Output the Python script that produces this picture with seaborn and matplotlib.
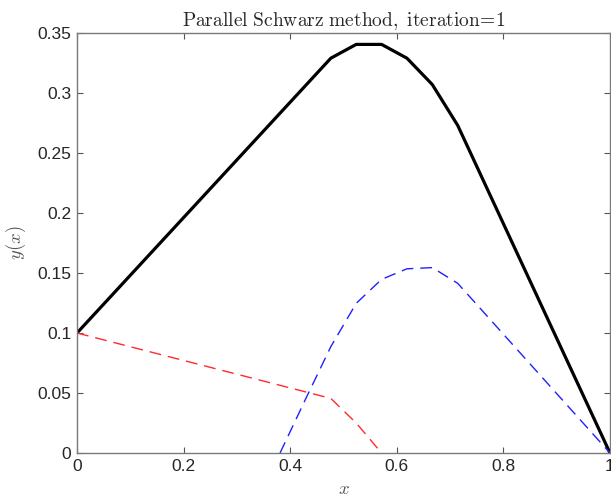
import numpy as np
import pandas as pd
import matplotlib
matplotlib.use("Agg")
import matplotlib.pyplot as plt
import seaborn as sns

# Data
x_full = [0, 10/21, 11/21, 12/21, 13/21, 14/21, 15/21, 1.0]
y_full = [0.1, 0.329, 0.3405, 0.3405, 0.329, 0.307, 0.273, 0.0]

x_left = [0, 10/21, 11/21, 12/21]
y_left = [0.1, 0.0455, 0.025, 0.0]

x_right = [8/21, 9/21, 10/21, 11/21, 12/21, 13/21, 14/21, 15/21, 1.0]
y_right = [0.0, 0.0447, 0.0886, 0.1247, 0.1447, 0.1535, 0.1545, 0.1414, 0.0]

xticks = [0, 0.2, 0.4, 0.6, 0.8, 1]
xticklabels = ["0", "0.2", "0.4", "0.6", "0.8", "1"]
yticks = [0, 0.05, 0.1, 0.15, 0.2, 0.25, 0.3, 0.35]
yticklabels = ["0", "0.05", "0.1", "0.15", "0.2", "0.25", "0.3", "0.35"]

title = r"$\mathrm{Parallel\ Schwarz\ method,\ iteration\!=\!1}$"

sns.set_theme(style="ticks")
plt.rcParams["font.family"] = ["Liberation Sans", "DejaVu Sans"]
plt.rcParams["mathtext.fontset"] = "cm"

fig = plt.figure(figsize=(6.11, 5.01), dpi=100)
ax = fig.add_axes([77/611, 48/501, 533/611, 420/501])

df_full = pd.DataFrame({"x": x_full, "y": y_full})
df_left = pd.DataFrame({"x": x_left, "y": y_left})
df_right = pd.DataFrame({"x": x_right, "y": y_right})

sns.lineplot(data=df_full, x="x", y="y", ax=ax, color="black", linewidth=2.3,
             sort=False, estimator=None)
sns.lineplot(data=df_left, x="x", y="y", ax=ax, color="#ff2a2a", linewidth=1.0,
             sort=False, estimator=None, linestyle=(0, (8.5, 5)))
sns.lineplot(data=df_right, x="x", y="y", ax=ax, color="#2020ff", linewidth=1.0,
             sort=False, estimator=None, linestyle=(0, (8.5, 5)))

ax.set_xlim(0, 1)
ax.set_ylim(0, 0.35)
ax.set_xticks(xticks)
ax.set_xticklabels(xticklabels)
ax.set_yticks(yticks)
ax.set_yticklabels(yticklabels)

for s in ax.spines.values():
    s.set_visible(True)
    s.set_color("#7a7a7a")
    s.set_linewidth(1.0)

ax.tick_params(axis="both", which="both", direction="in", length=4, width=0.8,
               color="#555555", labelsize=12.5, labelcolor="#262626",
               top=True, right=True, pad=4)

ax.set_xlabel(r"$x$", fontsize=13.5, color="#555555", labelpad=5)
ax.set_ylabel(r"$y(x)$", fontsize=13.5, color="#555555", labelpad=7)
ax.set_title(title, fontsize=14, color="#262626", pad=5)

fig.savefig("out.png", dpi=100)
